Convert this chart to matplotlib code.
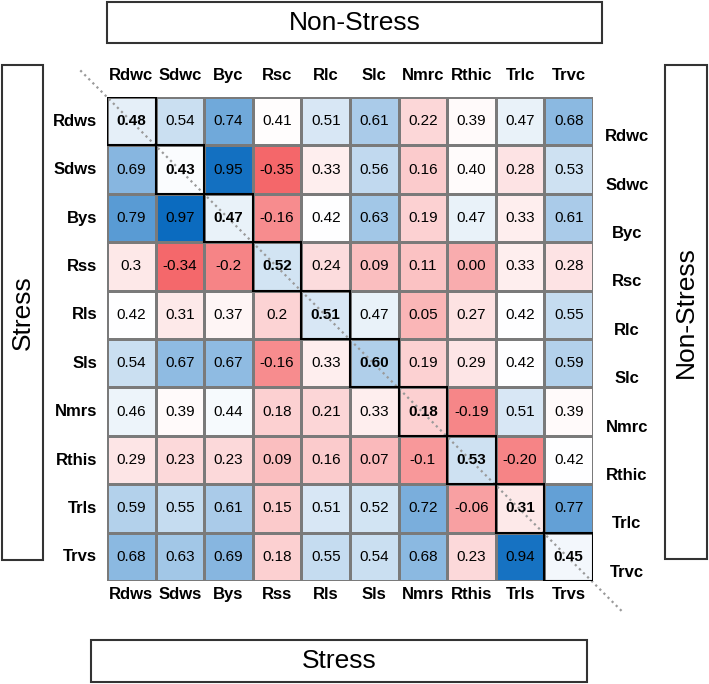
import numpy as np
import matplotlib
matplotlib.use("Agg")
import matplotlib.pyplot as plt
from matplotlib.colors import LinearSegmentedColormap, TwoSlopeNorm
from matplotlib.patches import Rectangle

plt.rcParams['font.family'] = ['Liberation Sans', 'DejaVu Sans']

row_labels = ["Rdws", "Sdws", "Bys", "Rss", "Rls", "Sls", "Nmrs", "Rthis", "Trls", "Trvs"]
col_labels = ["Rdwc", "Sdwc", "Byc", "Rsc", "Rlc", "Slc", "Nmrc", "Rthic", "Trlc", "Trvc"]

cell_text = [
    ["0.48", "0.54", "0.74", "0.41", "0.51", "0.61", "0.22", "0.39", "0.47", "0.68"],
    ["0.69", "0.43", "0.95", "-0.35", "0.33", "0.56", "0.16", "0.40", "0.28", "0.53"],
    ["0.79", "0.97", "0.47", "-0.16", "0.42", "0.63", "0.19", "0.47", "0.33", "0.61"],
    ["0.3", "-0.34", "-0.2", "0.52", "0.24", "0.09", "0.11", "0.00", "0.33", "0.28"],
    ["0.42", "0.31", "0.37", "0.2", "0.51", "0.47", "0.05", "0.27", "0.42", "0.55"],
    ["0.54", "0.67", "0.67", "-0.16", "0.33", "0.60", "0.19", "0.29", "0.42", "0.59"],
    ["0.46", "0.39", "0.44", "0.18", "0.21", "0.33", "0.18", "-0.19", "0.51", "0.39"],
    ["0.29", "0.23", "0.23", "0.09", "0.16", "0.07", "-0.1", "0.53", "-0.20", "0.42"],
    ["0.59", "0.55", "0.61", "0.15", "0.51", "0.52", "0.72", "-0.06", "0.31", "0.77"],
    ["0.68", "0.63", "0.69", "0.18", "0.55", "0.54", "0.68", "0.23", "0.94", "0.45"],
]
values = np.array([[float(s) for s in row] for row in cell_text])

W, H = 709, 684
fig = plt.figure(figsize=(W / 100, H / 100), dpi=100)

def fx(px):
    return px / W

def fy(py):
    return 1 - py / H

# heatmap axes: grid x 107-593, y 97-581
ax = fig.add_axes([fx(107), fy(581), (593 - 107) / W, (581 - 97) / H])
cmap = LinearSegmentedColormap.from_list("rwb", ["#F4676A", "#FFFFFF", "#0B6BBF"])
norm = TwoSlopeNorm(vmin=values.min(), vcenter=np.median(values), vmax=values.max())
n = len(row_labels)
ax.pcolormesh(np.arange(n + 1), np.arange(n + 1), values, cmap=cmap, norm=norm,
              edgecolor="#7a7a7a", linewidth=0.9)
ax.set_xlim(0, n)
ax.set_ylim(n, 0)
ax.axis("off")

# diagonal dotted line
ax.plot([-0.55, n + 0.62], [-0.55, n + 0.65], linestyle=(0, (1, 1.6)), color="#9a9a9a",
        linewidth=1.6, clip_on=False, zorder=3)

for i in range(n):
    for j in range(n):
        diag = i == j
        ax.text(j + 0.5, i + 0.5, cell_text[i][j], ha="center", va="center",
                fontsize=11, fontweight="bold" if diag else "normal", color="black", zorder=4)
    ax.add_patch(Rectangle((i, i), 1, 1, fill=False, edgecolor="black", linewidth=1.5, zorder=5))

for i, lab in enumerate(row_labels):
    ax.text(-0.2, i + 0.5, lab, ha="right", va="center", fontsize=12, fontweight="bold",
            clip_on=False)
    ax.text(i + 0.5, n + 0.27, lab, ha="center", va="center", fontsize=12, fontweight="bold",
            clip_on=False)
for j, lab in enumerate(col_labels):
    ax.text(j + 0.5, -0.45, lab, ha="center", va="center", fontsize=12, fontweight="bold",
            clip_on=False)
    ax.text(n + 0.7, j + 0.82, lab, ha="center", va="center", fontsize=12, fontweight="bold",
            clip_on=False)

# framing boxes
def box(x0, y0, x1, y1, text, rot):
    fig.patches.append(Rectangle((fx(x0), fy(y1)), (x1 - x0) / W, (y1 - y0) / H,
                                 transform=fig.transFigure, fill=False,
                                 edgecolor="#333333", linewidth=1.5))
    fig.text(fx((x0 + x1) / 2), fy((y0 + y1) / 2), text, ha="center", va="center",
             rotation=rot, fontsize=19)

box(107, 2, 602, 43, "Non-Stress", 0)
box(91, 640, 587, 682, "Stress", 0)
box(2, 65, 43, 560, "Stress", 90)
box(665, 65, 707, 559, "Non-Stress", 90)

fig.savefig("out.png", dpi=100)
